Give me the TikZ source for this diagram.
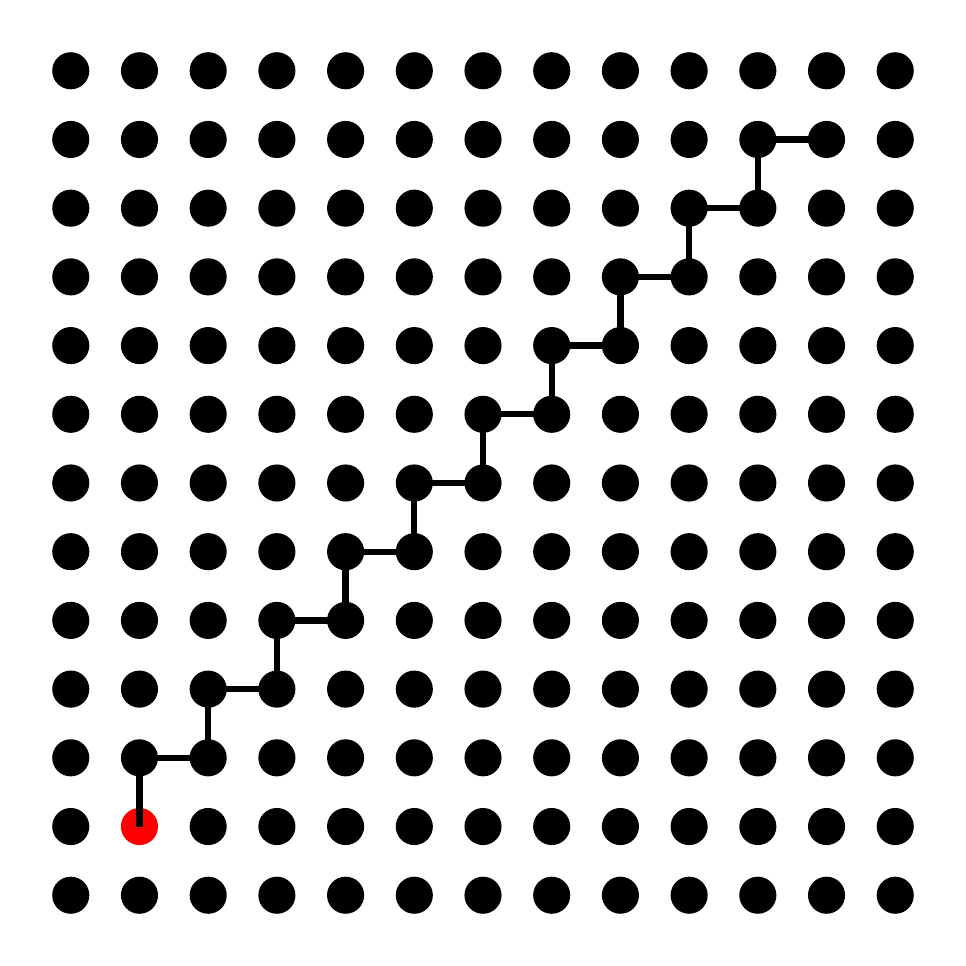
\documentclass[tikz,border=0pt]{standalone}
\usepackage{tikz}

\begin{document}
\begin{tikzpicture}[
  dot/.style={circle, fill=black, minimum size=0.54cm, inner sep=0pt},
  start/.style={dot, fill=red},
  walk/.style={draw=black, line width=2.6pt}
]
\useasboundingbox (-1.03,-1.03) rectangle (13.03,13.03);

% grid of dots, the start one in red
\foreach \i in {0,...,12}{
  \foreach \j in {0,...,12}{
    \pgfmathtruncatemacro\isstart{and(\i==1,\j==1)}
    \ifnum\isstart=1 \def\dotstyle{start}\else\def\dotstyle{dot}\fi
    \node[\dotstyle] (d-\i-\j) at (\i,\j) {};
  }
}

% staircase walk
\foreach \k [evaluate=\k as \n using int(\k+1)] in {1,...,10}{
  \draw[walk] (d-\k-\k.center) -- (d-\k-\n.center) -- (d-\n-\n.center);
}

\end{tikzpicture}
\end{document}
